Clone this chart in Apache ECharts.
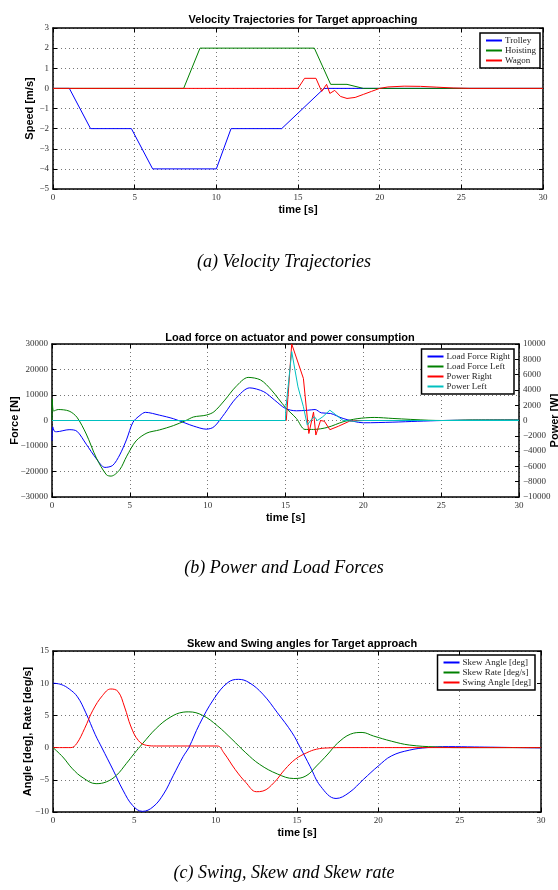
<!doctype html>
<html>
<head>
<meta charset="utf-8"/>
<title>crane trajectories</title>
<script src="https://cdn.jsdelivr.net/npm/echarts@6/dist/echarts.min.js"></script>
<style>
*{margin:0;padding:0;}
body{background:#fff;}
#main{width:558px;height:890px;}
</style>
</head>
<body>
<div id="main"></div>
<script type="text/javascript">

// ---- (a) velocity trajectories, [time s, speed m/s]
var trolley = [[0,0],[1,0],[2.3,-2],[4.8,-2],[6.1,-4],[10,-4],[10.9,-2],[14,-2],[16.6,0],[30,0]];
var hoisting = [[0,0],[8,0],[9,2],[16,2],[17,0.2],[18,0.2],[19,0],[30,0]];
var wagon = [[0,0],[15,0],[15.4,0.5],[16.1,0.5],[16.45,-0.15],[16.75,0.2],[16.95,-0.25],[17.25,-0.1],
    [17.6,-0.4],[18,-0.5],[18.5,-0.45],[19,-0.3],[19.5,-0.15],[20,0],[20.5,0.07],[21.5,0.11],
    [22.5,0.1],[23.5,0.06],[24.5,0.02],[25.5,0],[30,0]];

// ---- (b) load forces [N] and power [W]
var forceRight = [[0,-8000],[0.05,-2500],[0.15,-4200],[0.3,-4400],[1.1,-3600],[1.6,-4200],[2.2,-9300],
    [2.85,-15000],[3.4,-18400],[3.9,-17600],[4.35,-13500],[4.8,-7300],[5.2,-700],[5.65,2000],[6,3200],
    [6.9,2100],[7.8,700],[8.6,-1100],[9.1,-2200],[9.9,-3400],[10.4,-2500],[11.1,2800],[11.8,8600],
    [12.7,12800],[13.6,11300],[14.3,8000],[15,4700],[15.7,3800],[16.4,4000],[16.9,4300],[17.3,3000],
    [17.9,2750],[18.7,800],[20,-900],[21.9,-650],[23.5,-300],[25.1,0],[27,150],[30,200]];
var forceLeft = [[0,0],[0.02,8500],[0.1,3700],[0.4,4300],[1.1,3700],[1.6,1300],[2.2,-5300],[2.85,-14700],
    [3.5,-21300],[3.8,-21800],[4.35,-19300],[4.8,-14000],[5.4,-8000],[6.1,-4900],[6.9,-3700],[7.8,-2000],
    [8.6,0],[9.1,1400],[9.9,2100],[10.4,3400],[11.1,8000],[11.8,13200],[12.6,16900],[13.4,15900],
    [14.1,11900],[15,5100],[15.7,800],[16.25,-3500],[16.8,-3500],[17.7,-2700],[18.7,-500],[19.6,700],
    [20.7,1200],[21.9,800],[24.2,100],[25.1,0],[27,200],[30,200]];
var powerRight = [[0,0],[15.05,0],[15.4,10000],[16.15,5500],[16.5,-1700],[16.8,1100],[16.95,-1900],
    [17.25,0],[17.5,-100],[17.85,-1200],[18.4,-750],[19.1,-100],[19.6,0],[30,0]];
var powerLeft = [[0,0],[15,0],[15.02,1500],[15.4,9000],[15.8,4400],[16.15,1800],[16.4,-600],[16.65,100],
    [16.85,500],[17.05,0],[17.4,500],[17.85,1350],[18.2,800],[18.7,0],[19.4,-100],[20,0],[30,0]];

// ---- (c) skew / swing angles [deg], skew rate [deg/s]
var skewAngle = [[0,10],[0.5,9.8],[1,9.1],[1.5,7.9],[2,5.5],[2.6,2],[3,0],[3.7,-3.5],[4.3,-6.6],
    [4.9,-9],[5.5,-9.9],[6.15,-9.2],[6.8,-7.2],[7.4,-4.3],[8,-1.4],[8.35,0],[9,3.6],[9.9,7.6],
    [10.75,10.1],[11.4,10.6],[12.05,10.1],[12.9,8.3],[13.8,5.4],[14.7,2.3],[15.2,0],[15.8,-2.9],
    [16.45,-6],[17.4,-7.9],[18.2,-7],[19.1,-4.9],[20,-2.85],[20.8,-1.3],[21.9,-0.4],[23,0],
    [24.3,0.15],[25.9,0.1],[30,-0.05]];
var skewRate = [[0,0],[0.6,-1.45],[1.2,-3.3],[1.85,-4.7],[2.65,-5.6],[3.3,-5.3],[3.9,-4.3],[4.5,-2.5],
    [5,-0.9],[5.5,0.6],[6.35,3],[7.2,4.7],[8,5.5],[8.35,5.55],[9.2,5],[10.1,3.4],[11,1.3],[11.85,-0.8],
    [12.7,-2.6],[13.8,-4.1],[14.8,-4.8],[15.55,-4.4],[16.2,-2.85],[16.9,-1],[17.5,0.7],[18.3,2.1],
    [19,2.35],[19.7,1.8],[20.8,1],[21.9,0.4],[23.5,0.1],[25,0],[30,0]];
var swingAngle = [[0,0],[1.1,0],[1.45,0.6],[1.95,3],[2.45,5.8],[3.05,8.1],[3.55,9.1],[4,8.7],
    [4.4,6.3],[4.8,3.2],[5.25,1.1],[5.75,0.35],[6.35,0.25],[10.1,0.25],[10.5,-0.8],[11.2,-3.4],
    [11.85,-5.4],[12.5,-6.85],[12.9,-6.75],[13.6,-5.4],[14.25,-3.4],[14.9,-1.8],[15.6,-0.8],
    [16.2,-0.25],[16.9,-0.05],[18,0],[30,0]];

var titles = ['Velocity Trajectories for Target approaching',
              'Load force on actuator and power consumption',
              'Skew and Swing angles for Target approach'];
var captions = ['(a) Velocity Trajectories', '(b) Power and Load Forces', '(c) Swing, Skew and Skew rate'];

var BLUE = '#0000ff', GREEN = '#008000', RED = '#ff0000', CYAN = '#00c0c0';

var chart = echarts.init(document.getElementById('main'));

var grids = [
    {left: 53, top: 28, width: 490, height: 161, outerBoundsMode: 'none', containLabel: false},
    {left: 52, top: 344, width: 467, height: 153, outerBoundsMode: 'none', containLabel: false},
    {left: 53, top: 651, width: 488, height: 161, outerBoundsMode: 'none', containLabel: false}
];

function minus(v){ return String(v).replace('-', '\u2212'); }

var tickFont = {fontFamily: 'Liberation Serif', fontSize: 9, color: '#333', formatter: minus};
var nameFont = {fontFamily: 'Liberation Sans', fontSize: 11, fontWeight: 'bold', color: '#000'};
var dotted = {show: true, lineStyle: {color: '#777', type: [1, 3], width: 1}};
var frame = {show: true, onZero: false, lineStyle: {color: '#000', width: 1.5}};
var ticks = {show: true, inside: true, length: 4, lineStyle: {color: '#000'}};

function xAx(g, pos, shown){
    return {type: 'value', gridIndex: g, position: pos, min: 0, max: 30, interval: 5,
        name: shown ? 'time [s]' : '', nameLocation: 'middle', nameGap: 15, nameMoveOverlap: false,
        nameTextStyle: nameFont, axisLine: frame, axisTick: ticks,
        axisLabel: shown ? Object.assign({margin: 4}, tickFont) : {show: false},
        splitLine: shown ? dotted : {show: false}};
}
function yAx(g, pos, min, max, step, name, gap, shown, grid){
    return {type: 'value', gridIndex: g, position: pos, min: min, max: max, interval: step,
        name: name, nameLocation: 'middle', nameGap: gap, nameRotate: 90, nameMoveOverlap: false,
        nameTextStyle: nameFont, axisLine: frame, axisTick: ticks,
        axisLabel: shown ? Object.assign({margin: 4}, tickFont) : {show: false},
        splitLine: grid ? dotted : {show: false}};
}

function line(name, data, color, xi, yi, smooth){
    return {name: name, type: 'line', data: data, xAxisIndex: xi, yAxisIndex: yi,
        showSymbol: false, smooth: smooth || false, animation: false,
        lineStyle: {color: color, width: 1}, itemStyle: {color: color}};
}

function legend(g, names, right, top){
    return {data: names, orient: 'vertical', right: right, top: top, itemGap: 1,
        itemWidth: 16, itemHeight: 2, icon: 'rect', padding: [3, 4, 3, 6],
        backgroundColor: '#fff', borderColor: '#000', borderWidth: 1.5, borderRadius: 0,
        textStyle: {fontFamily: 'Liberation Serif', fontSize: 9, color: '#222', padding: [0, 0, 0, -2]}};
}

var titleCfg = [];
var tcx = [298, 285, 297], tty = [9, 327, 633], cty = [248, 554, 859];
for (var i = 0; i < 3; i++) {
    titleCfg.push({text: titles[i], left: tcx[i], top: tty[i], textAlign: 'center',
        textStyle: {fontFamily: 'Liberation Sans', fontSize: 11, fontWeight: 'bold', color: '#000'}});
    titleCfg.push({text: captions[i], left: 279, top: cty[i], textAlign: 'center',
        textStyle: {fontFamily: 'Liberation Serif', fontSize: 18, fontStyle: 'italic', fontWeight: 'normal', color: '#000'}});
}

var option = {
    backgroundColor: '#fff',
    animation: false,
    title: titleCfg,
    grid: grids,
    legend: [
        legend(0, ['Trolley', 'Hoisting', 'Wagon'], 18, 33),
        legend(1, ['Load Force Right', 'Load Force Left', 'Power Right', 'Power Left'], 44, 349),
        legend(2, ['Skew Angle [deg]', 'Skew Rate [deg/s]', 'Swing Angle [deg]'], 23, 655)
    ],
    xAxis: [
        xAx(0, 'bottom', true), xAx(0, 'top', false),
        xAx(1, 'bottom', true), xAx(1, 'top', false),
        xAx(2, 'bottom', true), xAx(2, 'top', false)
    ],
    yAxis: [
        yAx(0, 'left', -5, 3, 1, 'Speed [m/s]', 18, true, true),
        yAx(0, 'right', -5, 3, 1, '', 0, false, false),
        yAx(1, 'left', -30000, 30000, 10000, 'Force [N]', 32, true, true),
        yAx(1, 'right', -10000, 10000, 2000, 'Power [W]', 30, true, false),
        yAx(2, 'left', -10, 15, 5, 'Angle [deg], Rate [deg/s]', 20, true, true),
        yAx(2, 'right', -10, 15, 5, '', 0, false, false)
    ],
    series: [
        line('Trolley', trolley, BLUE, 0, 0),
        line('Hoisting', hoisting, GREEN, 0, 0),
        line('Wagon', wagon, RED, 0, 0),
        line('Load Force Right', forceRight, BLUE, 2, 2, 0.3),
        line('Load Force Left', forceLeft, GREEN, 2, 2, 0.3),
        line('Power Right', powerRight, RED, 2, 3),
        line('Power Left', powerLeft, CYAN, 2, 3),
        line('Skew Angle [deg]', skewAngle, BLUE, 4, 4, 0.4),
        line('Skew Rate [deg/s]', skewRate, GREEN, 4, 4, 0.4),
        line('Swing Angle [deg]', swingAngle, RED, 4, 4, 0.4)
    ]
};

chart.setOption(option);

</script>
</body>
</html>
